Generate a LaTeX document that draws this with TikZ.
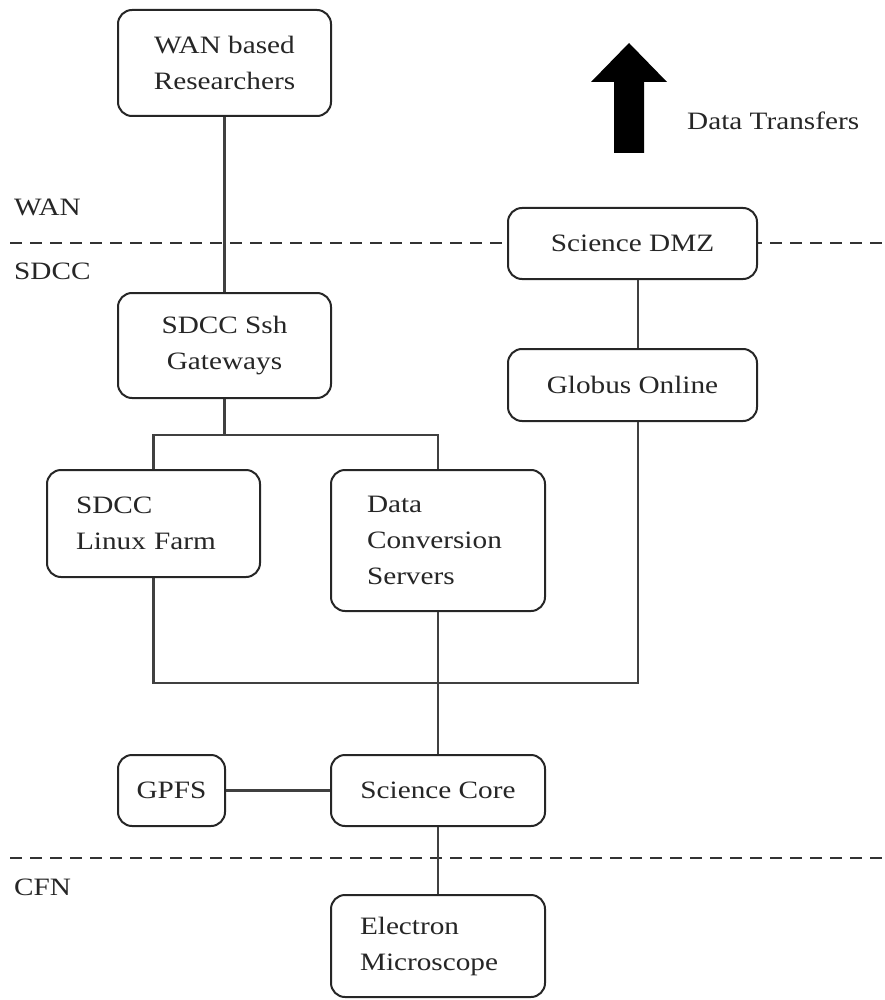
\documentclass[tikz,border=0pt]{standalone}
\usepackage{fontspec}
\setmainfont{Liberation Serif}[FakeStretch=1.17]
\usetikzlibrary{calc}
\begin{document}
\begin{tikzpicture}[x=1pt,y=-1pt,
  every node/.style={font=\fontsize{25}{36}\selectfont, text=black!85},
  box/.style={draw=black!85, line width=2pt, rounded corners=14pt, fill=white,
    align=center, inner sep=0pt},
  leftbox/.style={box, align=left, text width=#1},
  link/.style={draw=black!75, line width=2.2pt},
  zone/.style={draw=black!80, line width=1.8pt, dash pattern=on 12pt off 8pt},
  lbl/.style={anchor=base west, inner sep=0pt}]
\useasboundingbox (0,0) rectangle (885,1000);

% zone borders
\coordinate (zl1) at (10,243);  \coordinate (zr1) at (885,243);
\coordinate (zl2) at (10,858);  \coordinate (zr2) at (885,858);
\draw[zone] (zl1) -- (zr1);
\draw[zone] (zl2) -- (zr2);

% zone labels
\node[lbl] (lwan)  at (14,215) {WAN};
\node[lbl] (lsdcc) at (14,279) {SDCC};
\node[lbl] (lcfn)  at (14,895) {CFN};

% data transfer direction
\fill (614,153) -- (614,82) -- (591,82) -- (629,43) -- (667,82) -- (644,82) -- (644,153) -- cycle;
\node[lbl] (ldt) at (687,130) {Data Transfers};

% component boxes
\node[box, minimum width=213pt, minimum height=106pt] (wan) at (224.5,63) {WAN based\\Researchers};
\node[box, minimum width=213pt, minimum height=105pt] (ssh) at (224.5,345.5) {SDCC Ssh\\Gateways};
\node[box, minimum width=249pt, minimum height=71pt] (dmz) at (632.5,243.5) {Science DMZ};
\node[box, minimum width=249pt, minimum height=72pt] (glob) at (632.5,385) {Globus Online};
\node[leftbox=155pt, minimum width=213pt, minimum height=107pt] (farm) at (153.5,523.5) {SDCC\\Linux Farm};
\node[leftbox=142pt, minimum width=214pt, minimum height=141pt] (dcs) at (438,540.5) {Data\\Conversion\\Servers};
\node[box, minimum width=107pt, minimum height=71pt] (gpfs) at (171.5,790.5) {GPFS};
\node[box, minimum width=214pt, minimum height=71pt] (core) at (438,790.5) {Science Core};
\node[leftbox=156pt, minimum width=214pt, minimum height=102pt] (em) at (438,946) {Electron\\Microscope};

% connectors
\coordinate (split) at (224.5,435);
\coordinate (bus)   at (153.5,683);
\coordinate (gcol)  at (638,0);

\draw[link] (wan.south) -- (ssh.north);
\draw[link] (dmz.south -| gcol) -- (glob.north -| gcol);
\draw[link] (ssh.south) -- (split);
\draw[link] (farm.north) -- (farm.north |- split) -- (dcs.north |- split) -- (dcs.north);
\draw[link] (farm.south) -- (bus) -- (gcol |- bus) -- (glob.south -| gcol);
\draw[link] (dcs.south) -- (core.north);
\draw[link] (gpfs.east) -- (core.west);
\draw[link] (core.south) -- (em.north);
\end{tikzpicture}
\end{document}
